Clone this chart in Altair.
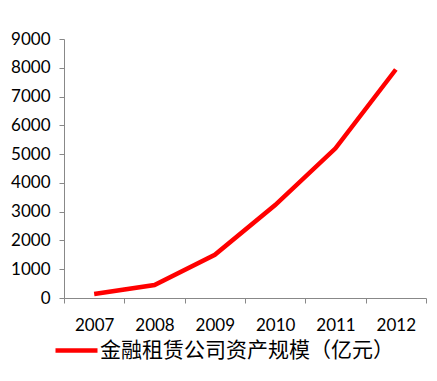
import altair as alt
import pandas as pd

years = ["2007", "2008", "2009", "2010", "2011", "2012"]
values = [140, 450, 1500, 3230, 5200, 7940]
series_name = "金融租赁公司资产规模（亿元）"
y_ticks = [0, 1000, 2000, 3000, 4000, 5000, 6000, 7000, 8000, 9000]

df = pd.DataFrame({"year": years, "value": values, "series": [series_name] * len(years)})

chart = alt.Chart(df).mark_line(strokeWidth=4.5).encode(
    x=alt.X(
        "year:N",
        sort=years,
        bandPosition=0.5,
        scale=alt.Scale(type="band", paddingInner=0, paddingOuter=0),
        axis=alt.Axis(title=None, labelAngle=0, tickBand="extent", labelPadding=14),
    ),
    y=alt.Y(
        "value:Q",
        scale=alt.Scale(domain=[0, 9000], nice=False),
        axis=alt.Axis(title=None, values=y_ticks, format="d", grid=False, labelPadding=9),
    ),
    color=alt.Color(
        "series:N",
        scale=alt.Scale(range=["#ff0000"]),
        legend=alt.Legend(
            orient="none",
            legendX=-11,
            legendY=288,
            title=None,
            symbolType="stroke",
            symbolSize=1764,
            symbolStrokeWidth=4.5,
            labelFontSize=21,
            labelFont="Noto Sans CJK SC",
            labelColor="#000000",
            labelLimit=400,
            labelOffset=0,
        ),
    ),
).properties(
    width=362,
    height=259,
    autosize=alt.AutoSizeParams(type="none"),
    padding={"left": 56, "top": 31, "right": 3, "bottom": 75},
).configure_view(stroke=None).configure_axis(
    domainColor="#888888",
    tickColor="#888888",
    tickSize=5,
    labelFont="Lato",
    labelFontSize=17,
    labelColor="#000000",
)

chart.save("out.html", embed_options={"renderer": "svg", "actions": False})
